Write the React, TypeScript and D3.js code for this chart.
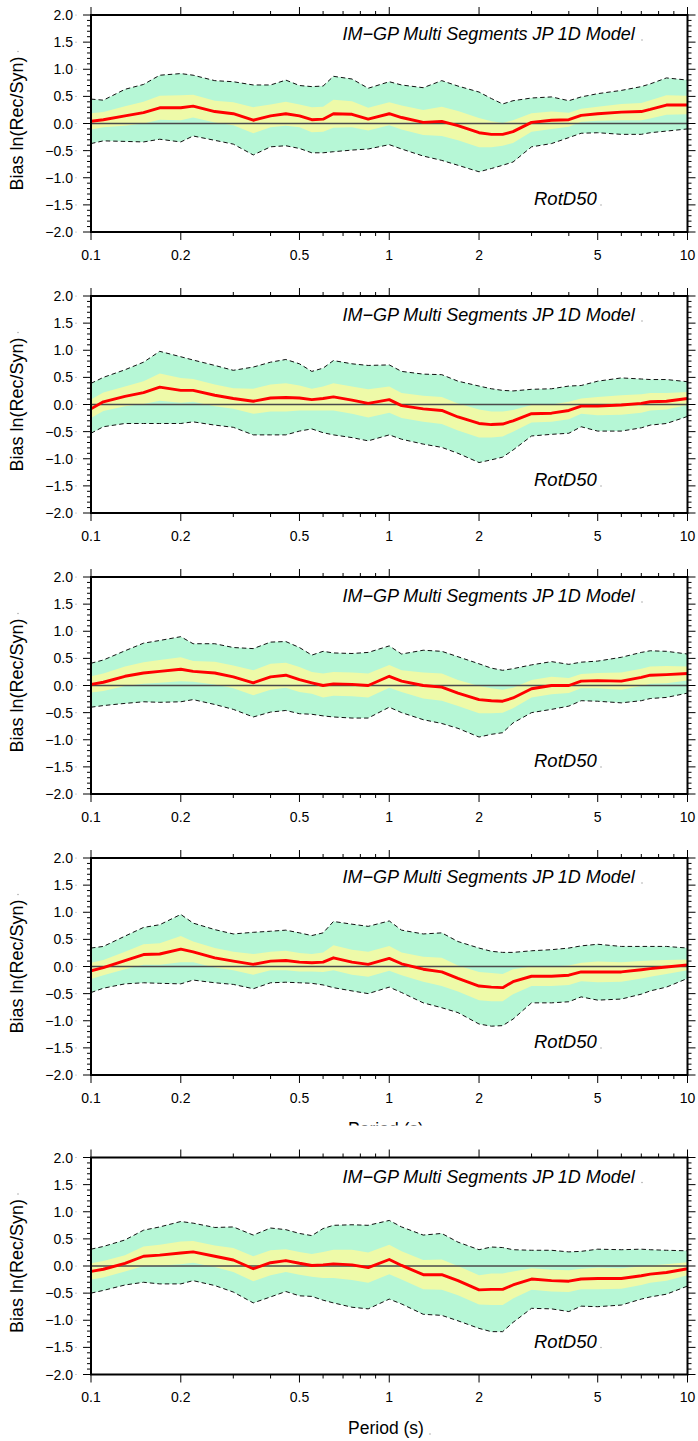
import React from "react";
import * as d3 from "d3";

// ---- data ----
const PERIODS = [0.1, 0.11, 0.13, 0.15, 0.17, 0.2, 0.22, 0.26, 0.3, 0.35, 0.4, 0.45, 0.5, 0.55, 0.6, 0.65, 0.75, 0.85, 1, 1.1, 1.3, 1.5, 1.7, 2, 2.2, 2.4, 2.6, 3, 3.5, 4, 4.4, 5, 6, 7, 7.5, 8.5, 10];

const MEAN_1 = [0.04,0.07,0.14,0.20,0.29,0.29,0.32,0.22,0.18,0.06,0.14,0.18,0.14,0.07,0.08,0.18,0.17,0.08,0.18,0.11,0.02,0.04,-0.04,-0.17,-0.20,-0.20,-0.15,0.02,0.06,0.07,0.15,0.18,0.21,0.22,0.26,0.34,0.34];
const UPPER_1 = [0.45,0.43,0.63,0.72,0.89,0.92,0.89,0.79,0.77,0.71,0.71,0.80,0.70,0.68,0.69,0.87,0.82,0.65,0.77,0.71,0.66,0.79,0.69,0.58,0.46,0.36,0.42,0.47,0.49,0.42,0.49,0.55,0.61,0.68,0.73,0.84,0.80];
const LOWER_1 = [-0.37,-0.32,-0.33,-0.34,-0.29,-0.34,-0.23,-0.31,-0.38,-0.58,-0.43,-0.41,-0.46,-0.54,-0.54,-0.52,-0.49,-0.47,-0.39,-0.47,-0.60,-0.68,-0.77,-0.89,-0.83,-0.77,-0.71,-0.43,-0.37,-0.26,-0.18,-0.17,-0.20,-0.20,-0.17,-0.14,-0.10];
const CI_1 = [0.15,0.14,0.18,0.20,0.22,0.23,0.21,0.20,0.21,0.24,0.21,0.22,0.21,0.23,0.23,0.26,0.24,0.21,0.21,0.22,0.23,0.27,0.27,0.27,0.24,0.21,0.21,0.17,0.16,0.13,0.12,0.13,0.15,0.16,0.17,0.18,0.17];

const MEAN_2 = [-0.08,0.05,0.15,0.22,0.32,0.26,0.26,0.17,0.11,0.06,0.12,0.13,0.12,0.09,0.11,0.14,0.08,0.02,0.09,-0.02,-0.08,-0.11,-0.23,-0.35,-0.37,-0.36,-0.30,-0.17,-0.16,-0.11,-0.03,-0.03,-0.01,0.02,0.05,0.06,0.11];
const UPPER_2 = [0.39,0.50,0.64,0.78,0.98,0.88,0.82,0.72,0.63,0.69,0.78,0.83,0.75,0.61,0.67,0.81,0.75,0.72,0.73,0.61,0.56,0.55,0.43,0.34,0.29,0.26,0.25,0.28,0.29,0.34,0.35,0.43,0.49,0.47,0.46,0.46,0.42];
const LOWER_2 = [-0.53,-0.41,-0.35,-0.35,-0.35,-0.35,-0.32,-0.38,-0.42,-0.56,-0.56,-0.56,-0.49,-0.45,-0.52,-0.56,-0.61,-0.67,-0.56,-0.64,-0.73,-0.79,-0.90,-1.07,-1.02,-0.97,-0.84,-0.58,-0.55,-0.53,-0.41,-0.49,-0.49,-0.43,-0.38,-0.35,-0.22];
const CI_2 = [0.17,0.17,0.18,0.21,0.25,0.23,0.21,0.20,0.19,0.23,0.25,0.26,0.23,0.20,0.22,0.25,0.25,0.26,0.24,0.23,0.24,0.25,0.25,0.26,0.24,0.23,0.20,0.16,0.16,0.16,0.14,0.17,0.18,0.17,0.16,0.15,0.12];

const MEAN_3 = [0.02,0.06,0.17,0.23,0.26,0.30,0.26,0.23,0.16,0.05,0.16,0.19,0.11,0.05,0.00,0.03,0.02,0.00,0.17,0.08,0.00,-0.03,-0.14,-0.26,-0.28,-0.29,-0.23,-0.06,0.00,0.00,0.08,0.09,0.08,0.15,0.19,0.20,0.22];
const UPPER_3 = [0.41,0.47,0.64,0.78,0.83,0.90,0.77,0.77,0.70,0.68,0.80,0.81,0.70,0.56,0.63,0.60,0.59,0.61,0.73,0.58,0.65,0.63,0.53,0.40,0.32,0.28,0.31,0.38,0.44,0.39,0.43,0.45,0.52,0.61,0.64,0.63,0.58];
const LOWER_3 = [-0.40,-0.37,-0.33,-0.30,-0.31,-0.30,-0.26,-0.35,-0.44,-0.58,-0.49,-0.46,-0.52,-0.53,-0.56,-0.58,-0.60,-0.60,-0.40,-0.50,-0.63,-0.70,-0.79,-0.95,-0.90,-0.87,-0.69,-0.50,-0.44,-0.38,-0.28,-0.29,-0.32,-0.28,-0.24,-0.22,-0.14];
const CI_3 = [0.15,0.16,0.18,0.20,0.21,0.22,0.19,0.21,0.21,0.23,0.24,0.23,0.23,0.20,0.22,0.22,0.22,0.22,0.21,0.20,0.24,0.25,0.24,0.25,0.23,0.21,0.19,0.16,0.16,0.14,0.13,0.14,0.16,0.16,0.16,0.16,0.13];

const MEAN_4 = [-0.08,-0.02,0.11,0.22,0.23,0.32,0.27,0.16,0.10,0.04,0.10,0.11,0.08,0.07,0.08,0.16,0.08,0.04,0.15,0.05,-0.05,-0.10,-0.22,-0.36,-0.38,-0.39,-0.28,-0.18,-0.18,-0.16,-0.10,-0.10,-0.10,-0.06,-0.04,-0.01,0.03];
const UPPER_4 = [0.34,0.37,0.56,0.72,0.77,0.96,0.80,0.68,0.60,0.63,0.65,0.67,0.62,0.57,0.62,0.83,0.78,0.74,0.84,0.67,0.60,0.62,0.46,0.34,0.28,0.26,0.26,0.29,0.31,0.34,0.38,0.41,0.37,0.37,0.37,0.37,0.34];
const LOWER_4 = [-0.48,-0.40,-0.32,-0.30,-0.31,-0.32,-0.25,-0.30,-0.33,-0.41,-0.30,-0.29,-0.30,-0.31,-0.34,-0.39,-0.45,-0.50,-0.38,-0.48,-0.67,-0.76,-0.85,-1.06,-1.10,-1.09,-0.97,-0.67,-0.67,-0.65,-0.56,-0.62,-0.60,-0.51,-0.45,-0.38,-0.22];
const CI_4 = [0.15,0.14,0.16,0.19,0.20,0.24,0.19,0.18,0.17,0.19,0.17,0.18,0.17,0.16,0.18,0.23,0.23,0.23,0.23,0.21,0.23,0.26,0.24,0.26,0.26,0.25,0.23,0.18,0.18,0.18,0.17,0.19,0.18,0.16,0.15,0.13,0.10];

const MEAN_5 = [-0.10,-0.06,0.05,0.18,0.20,0.24,0.26,0.18,0.11,-0.05,0.06,0.10,0.05,0.01,0.02,0.04,0.02,-0.03,0.12,0.01,-0.16,-0.16,-0.27,-0.44,-0.43,-0.43,-0.35,-0.24,-0.27,-0.28,-0.24,-0.23,-0.23,-0.18,-0.15,-0.12,-0.05];
const UPPER_5 = [0.31,0.36,0.48,0.66,0.72,0.82,0.79,0.71,0.72,0.57,0.70,0.67,0.60,0.56,0.69,0.75,0.76,0.75,0.84,0.72,0.57,0.60,0.44,0.30,0.35,0.34,0.30,0.29,0.29,0.26,0.27,0.31,0.30,0.31,0.30,0.29,0.28];
const LOWER_5 = [-0.50,-0.45,-0.35,-0.30,-0.33,-0.33,-0.27,-0.36,-0.48,-0.68,-0.57,-0.47,-0.55,-0.56,-0.63,-0.68,-0.76,-0.79,-0.61,-0.70,-0.89,-0.91,-1.01,-1.15,-1.21,-1.21,-1.04,-0.78,-0.79,-0.84,-0.74,-0.75,-0.72,-0.61,-0.57,-0.52,-0.37];
const CI_5 = [0.15,0.15,0.15,0.18,0.19,0.21,0.20,0.20,0.22,0.23,0.23,0.21,0.21,0.21,0.24,0.26,0.28,0.28,0.27,0.26,0.27,0.28,0.27,0.27,0.29,0.29,0.25,0.20,0.20,0.20,0.19,0.20,0.19,0.17,0.16,0.15,0.12];

const X_MAJOR = [0.1, 0.2, 0.5, 1, 2, 5, 10];
const X_MAJOR_LABELS = ["0.1", "0.2", "0.5", "1", "2", "5", "10"];
const X_MINOR = [0.3, 0.4, 0.6, 0.7, 0.8, 0.9, 3, 4, 6, 7, 8, 9];
const Y_MAJOR = [-2, -1.5, -1, -0.5, 0, 0.5, 1, 1.5, 2];
const Y_MAJOR_LABELS = ["\u22122.0", "\u22121.5", "\u22121.0", "\u22120.5", "0.0", "0.5", "1.0", "1.5", "2.0"];

const TITLE = "IM\u2212GP Multi Segments JP 1D Model";
const SUBTITLE = "RotD50";
const Y_TITLE = "Bias ln(Rec/Syn)";
const X_TITLE = "Period (s)";

const PANELS = [
  { mean: MEAN_1, upper: UPPER_1, lower: LOWER_1, ci: CI_1 },
  { mean: MEAN_2, upper: UPPER_2, lower: LOWER_2, ci: CI_2 },
  { mean: MEAN_3, upper: UPPER_3, lower: LOWER_3, ci: CI_3 },
  { mean: MEAN_4, upper: UPPER_4, lower: LOWER_4, ci: CI_4 },
  { mean: MEAN_5, upper: UPPER_5, lower: LOWER_5, ci: CI_5 },
];

// ---- layout ----
const W = 698;
const H = 1441;
const LEFT = 91;
const RIGHT = 687.5;
const PANEL_H = 217;
const TOPS = [15, 296, 577, 858, 1157.5];
const FONT = "'Liberation Sans', Arial, Helvetica, sans-serif";

const GREEN = "#b6f7d6";
const YELLOW = "#eefaa8";
const RED = "#ff0000";

function Panel({ idx, data }: { idx: number; data: typeof PANELS[number] }) {
  const top = TOPS[idx];
  const bottom = top + PANEL_H;
  const x = d3.scaleLog().domain([0.1, 10]).range([LEFT, RIGHT]);
  const y = d3.scaleLinear().domain([-2, 2]).range([bottom, top]);

  const rows = PERIODS.map((p, i) => ({
    p,
    m: data.mean[i],
    hi: data.upper[i],
    lo: data.lower[i],
    ci: data.ci[i],
  }));

  const outerArea = d3.area<any>().x((d) => x(d.p)).y0((d) => y(d.lo)).y1((d) => y(d.hi))(rows) || "";
  const innerArea = d3.area<any>().x((d) => x(d.p)).y0((d) => y(d.m - d.ci)).y1((d) => y(d.m + d.ci))(rows) || "";
  const upLine = d3.line<any>().x((d) => x(d.p)).y((d) => y(d.hi))(rows) || "";
  const loLine = d3.line<any>().x((d) => x(d.p)).y((d) => y(d.lo))(rows) || "";
  const meanLine = d3.line<any>().x((d) => x(d.p)).y((d) => y(d.m))(rows) || "";

  const yMinor = d3.range(-20, 21).map((k) => k / 10).filter((v) => Math.abs(v * 2 - Math.round(v * 2)) > 1e-6);

  const clipId = `clip-${idx}`;
  return (
    <g>
      <defs>
        <clipPath id={clipId}>
          <rect x={LEFT} y={top} width={RIGHT - LEFT} height={PANEL_H} />
        </clipPath>
      </defs>
      <rect x={LEFT} y={top} width={RIGHT - LEFT} height={PANEL_H} fill="#fff" />
      <g clipPath={`url(#${clipId})`}>
        <path d={outerArea} fill={GREEN} />
        <path d={innerArea} fill={YELLOW} />
        <line x1={LEFT} x2={RIGHT} y1={y(0)} y2={y(0)} stroke="#4a4a4a" strokeWidth={1.5} />
        <path d={upLine} fill="none" stroke="#111" strokeWidth={1} strokeDasharray="4.5,3" />
        <path d={loLine} fill="none" stroke="#111" strokeWidth={1} strokeDasharray="4.5,3" />
        <path d={meanLine} fill="none" stroke={RED} strokeWidth={2.9} strokeLinejoin="round" />
      </g>

      {/* ticks */}
      {X_MAJOR.map((v) => (
        <g key={`xM${v}`} stroke="#000" strokeWidth={1}>
          <line x1={x(v)} x2={x(v)} y1={bottom} y2={bottom + 8} />
          <line x1={x(v)} x2={x(v)} y1={top} y2={top - 8} />
        </g>
      ))}
      {X_MINOR.map((v) => (
        <g key={`xm${v}`} stroke="#000" strokeWidth={1}>
          <line x1={x(v)} x2={x(v)} y1={bottom} y2={bottom + 4} />
          <line x1={x(v)} x2={x(v)} y1={top} y2={top - 4} />
        </g>
      ))}
      {Y_MAJOR.map((v) => (
        <g key={`yM${v}`} stroke="#000" strokeWidth={1}>
          <line x1={LEFT - 8} x2={LEFT} y1={y(v)} y2={y(v)} />
          <line x1={RIGHT} x2={RIGHT + 8} y1={y(v)} y2={y(v)} />
        </g>
      ))}
      {yMinor.map((v) => (
        <g key={`ym${v}`} stroke="#000" strokeWidth={1}>
          <line x1={LEFT - 4} x2={LEFT} y1={y(v)} y2={y(v)} />
          <line x1={RIGHT} x2={RIGHT + 4} y1={y(v)} y2={y(v)} />
        </g>
      ))}

      {/* frame */}
      <rect x={LEFT} y={top} width={RIGHT - LEFT} height={PANEL_H} fill="none" stroke="#000" strokeWidth={2} />

      {/* tick labels */}
      {Y_MAJOR.map((v, i) => (
        <g key={`yl${v}`}>
          <text x={73} y={y(v) + 5} textAnchor="end" fontFamily={FONT} fontSize={14} fill="#000">
            {Y_MAJOR_LABELS[i]}
          </text>
          <circle cx={76} cy={y(v)} r={0.6} fill="#999" />
        </g>
      ))}
      {X_MAJOR.map((v, i) => (
        <text key={`xl${v}`} x={x(v)} y={bottom + 27.5} textAnchor="middle" fontFamily={FONT} fontSize={14} fill="#000">
          {X_MAJOR_LABELS[i]}
        </text>
      ))}

      {/* annotations */}
      <text x={342.5} y={top + 25} fontFamily={FONT} fontStyle="italic" fontSize={18} fill="#000">
        {TITLE}
      </text>
      <circle cx={642} cy={top + 25} r={0.7} fill="#999" />
      <text x={534} y={top + 190} fontFamily={FONT} fontStyle="italic" fontSize={18.5} fill="#000">
        {SUBTITLE}
      </text>
      <circle cx={601} cy={top + 190} r={0.7} fill="#999" />

      {/* y title */}
      <text
        transform={`translate(23, ${(top + bottom) / 2}) rotate(-90)`}
        textAnchor="middle"
        fontFamily={FONT}
        fontSize={18}
        fill="#000"
      >
        {Y_TITLE}
      </text>
      <circle cx={18} cy={(top + bottom) / 2 - 72} r={0.7} fill="#999" />
    </g>
  );
}

export default function App() {
  return (
    <svg
      width={W}
      height={H}
      viewBox={`0 0 ${W} ${H}`}
      style={{ position: "absolute", left: 0, top: 0, background: "#fff" }}
    >
      <rect x={0} y={0} width={W} height={H} fill="#fff" />
      {PANELS.slice(0, 4).map((d, i) => (
        <Panel key={i} idx={i} data={d} />
      ))}
      {/* x title of panel 4, almost fully hidden under the last panel */}
      <text x={386} y={TOPS[3] + PANEL_H + 59.5} textAnchor="middle" fontFamily={FONT} fontSize={17.5} fill="#000">
        {X_TITLE}
      </text>
      <rect x={0} y={1125.5} width={W} height={H - 1125.5} fill="#fff" />
      <Panel idx={4} data={PANELS[4]} />
      <text x={386} y={TOPS[4] + PANEL_H + 59.5} textAnchor="middle" fontFamily={FONT} fontSize={17.5} fill="#000">
        {X_TITLE}
      </text>
      <circle cx={430} cy={TOPS[4] + PANEL_H + 59.5} r={0.7} fill="#999" />
    </svg>
  );
}
